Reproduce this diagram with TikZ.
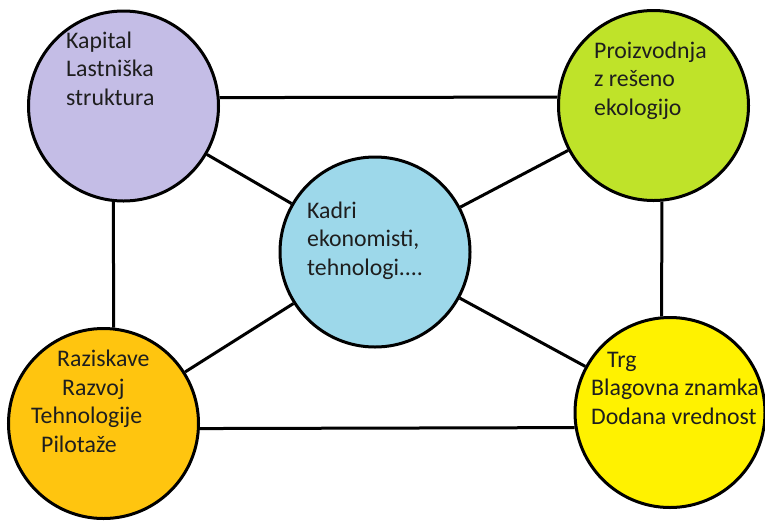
\documentclass[tikz,border=0pt]{standalone}
\usepackage{fontspec}
\setmainfont{Carlito}
\usetikzlibrary{positioning}
\definecolor{kaplila}{RGB}{196,189,230}
\definecolor{prozelena}{RGB}{191,227,41}
\definecolor{kadmodra}{RGB}{157,216,234}
\definecolor{razoranz}{RGB}{255,197,15}
\definecolor{trgrumena}{RGB}{255,242,0}
\definecolor{besedilo}{RGB}{30,30,30}

\begin{document}
\begin{tikzpicture}[x=1pt, y=-1pt,
    krog/.style={circle, draw=black, line width=3pt, minimum size=190pt, inner sep=0pt},
    napis/.style={anchor=base west, inner sep=0pt, align=left, text=besedilo,
                  font=\fontsize{23.8}{28.5}\selectfont},
    vez/.style={draw=black, line width=3pt}]
\useasboundingbox (0,0) rectangle (765,523);

% five circles
\node[krog, fill=kaplila]   (kap) at (123.5,106) {};
\node[krog, fill=prozelena] (pro) at (653.5,105.5) {};
\node[krog, fill=kadmodra]  (kad) at (375,252) {};
\node[krog, fill=razoranz]  (raz) at (103.5,423.5) {};
\node[krog, fill=trgrumena] (trg) at (670,412.5) {};

% outer rectangle
\draw[vez] (kap.5) -- (pro.175);
\draw[vez] (kap.264) -- (raz.84);
\draw[vez] (pro.275) -- (trg.95);
\draw[vez] (raz.-3) -- (trg.189);

% spokes to the middle
\draw[vez] (kap) -- (kad);
\draw[vez] (pro) -- (kad);
\draw[vez] (raz) -- (kad);
\draw[vez] (trg) -- (kad);

% texts (base = last line)
\node[napis] (tkap) at (66,105) {Kapital\\Lastniška\\struktura};
\node[napis] (tpro) at (594,115) {Proizvodnja\\z rešeno\\ekologijo};
\node[napis] (tkad) at (307,275) {Kadri\\ekonomisti,\\tehnologi....};
\node[napis] (traz) at (31,452) {\hspace*{26pt}Raziskave\\\hspace*{31pt}Razvoj\\Tehnologije\\\hspace*{10pt}Pilotaže};
\node[napis] (ttrg) at (591,424) {\hspace*{16pt}Trg\\Blagovna znamka\\Dodana vrednost};
\end{tikzpicture}
\end{document}
